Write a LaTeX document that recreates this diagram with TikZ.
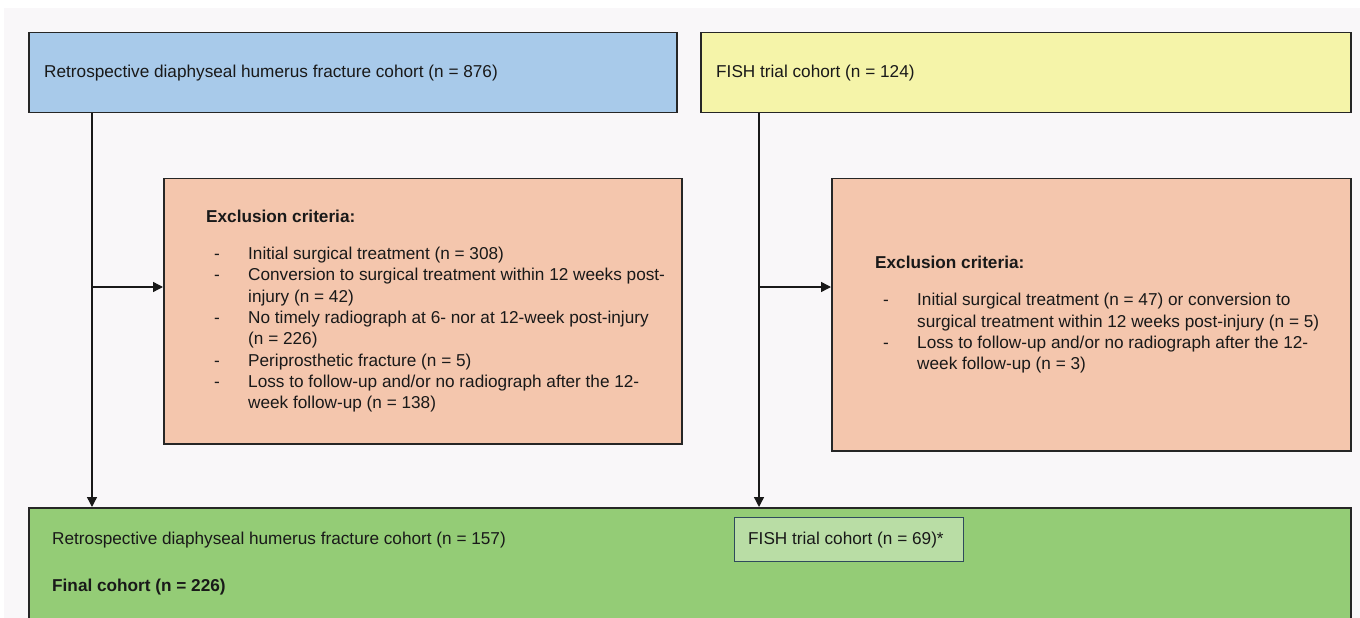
\documentclass[tikz,border=0pt]{standalone}
\usepackage{fontspec}
\setmainfont{Liberation Sans}
\usetikzlibrary{arrows.meta}
\usetikzlibrary{positioning}

\definecolor{pagegray}{RGB}{249,247,249}
\definecolor{retroblue}{RGB}{168,202,234}
\definecolor{fishyellow}{RGB}{245,244,169}
\definecolor{exclpink}{RGB}{244,198,173}
\definecolor{finalgreen}{RGB}{148,204,118}
\definecolor{fishgreen}{RGB}{185,221,165}
\definecolor{slate}{RGB}{47,74,92}

\newcommand{\exdash}{\makebox[42bp][l]{\hspace{8bp}-}}
\newcommand{\exhang}{\hspace*{42bp}}

\begin{document}
\begin{tikzpicture}[x=1bp, y=-1bp,
    box/.style={draw=black!85, line width=1.5bp, anchor=north west, inner sep=0pt},
    txt/.style={anchor=west, align=left, inner sep=0pt, text=black!90,
        font=\fontsize{17.2bp}{21.3bp}\selectfont},
    flow/.style={line width=1.4bp, draw=black!90, -{Triangle[length=10bp,width=10bp]}}]

    \useasboundingbox (0, 0) rectangle (1360, 618);
    \fill[white] (0, 0) rectangle (1360, 618);
    \fill[pagegray] (4, 8) rectangle (1360, 618);

    % source cohorts
    \node[box, fill=retroblue, minimum width=648bp, minimum height=80bp] (retro) at (28, 32) {};
    \node[txt] (retrotxt) at ([xshift=16bp]retro.west) {Retrospective diaphyseal humerus fracture cohort (n = 876)};

    \node[box, fill=fishyellow, minimum width=650bp, minimum height=80bp] (fish) at (700, 32) {};
    \node[txt] (fishtxt) at ([xshift=16bp]fish.west) {FISH trial cohort (n = 124)};

    % exclusions
    \node[box, fill=exclpink, minimum width=518bp, minimum height=265bp] (exclretro) at (163, 178) {};
    \node[txt] (exclretrotxt) at ([xshift=43bp]exclretro.west) {\textbf{Exclusion criteria:}\\[15.7bp]
        \exdash Initial surgical treatment (n = 308)\\
        \exdash Conversion to surgical treatment within 12 weeks post-\\
        \exhang injury (n = 42)\\
        \exdash No timely radiograph at 6- nor at 12-week post-injury\\
        \exhang (n = 226)\\
        \exdash Periprosthetic fracture (n = 5)\\
        \exdash Loss to follow-up and/or no radiograph after the 12-\\
        \exhang week follow-up (n = 138)};

    \node[box, fill=exclpink, minimum width=519bp, minimum height=272bp] (exclfish) at (831, 178) {};
    \node[txt] (exclfishtxt) at ([xshift=44bp]exclfish.west) {\textbf{Exclusion criteria:}\\[15.7bp]
        \exdash Initial surgical treatment (n = 47) or conversion to\\
        \exhang surgical treatment within 12 weeks post-injury (n = 5)\\
        \exdash Loss to follow-up and/or no radiograph after the 12-\\
        \exhang week follow-up (n = 3)};

    % final cohort
    \node[box, fill=finalgreen, minimum width=1322bp, minimum height=140bp] (final) at (28, 507) {};
    \node[txt] (finalretro) at (52, 540) {Retrospective diaphyseal humerus fracture cohort (n = 157)};
    \node[txt] (finaltxt) at (52, 587) {\textbf{Final cohort (n = 226)}};
    \node[box, draw=slate, fill=fishgreen, line width=1.2bp, minimum width=229bp, minimum height=44bp] (finalfish) at (734, 517) {};
    \node[txt] (finalfishtxt) at ([xshift=14bp]finalfish.west) {FISH trial cohort (n = 69)*};

    % connectors
    \coordinate (retrosplit) at (92, 287);
    \coordinate (fishsplit) at (759, 287);
    \draw[flow] (retro.south -| retrosplit) -- (final.north -| retrosplit);
    \draw[flow] (retrosplit) -- (retrosplit -| exclretro.west);
    \draw[flow] (fish.south -| fishsplit) -- (final.north -| fishsplit);
    \draw[flow] (fishsplit) -- (fishsplit -| exclfish.west);

\end{tikzpicture}
\end{document}
